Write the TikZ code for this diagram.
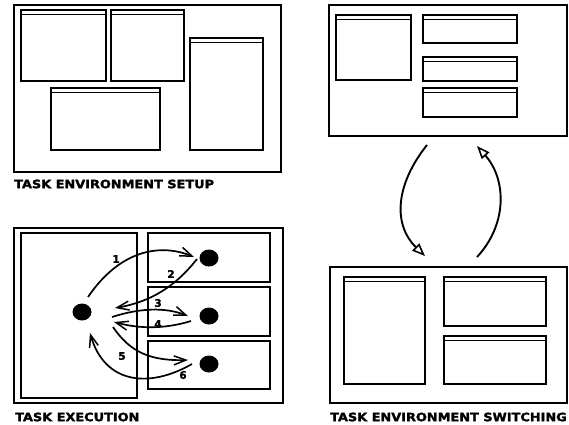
\documentclass[tikz,border=0pt]{standalone}
\usepackage{fontspec}
\newfontfamily\lblfont{DejaVu Sans}[FakeStretch=1.12,BoldFeatures={FakeBold=2}]
\newfontfamily\numfont{DejaVu Sans}[BoldFeatures={FakeBold=1.5}]
\usetikzlibrary{arrows.meta,shapes.geometric}
\newcommand\mywin[4]{%
  \draw[winline] (#1,#2) rectangle (#3,#4);
  \draw[winline] (#1,#2+4.5) -- (#3,#2+4.5);}
\begin{document}
\begin{tikzpicture}[x=1pt,y=-1pt,
  frame/.style={line width=2.3pt},
  winline/.style={line width=1.7pt},
  caption/.style={anchor=west,inner sep=0pt,font=\lblfont\bfseries\fontsize{11.5}{12}\selectfont},
  num/.style={inner sep=0pt,font=\numfont\bfseries\fontsize{10.5}{11}\selectfont},
  dot/.style={ellipse,fill=black,minimum width=19pt,minimum height=17pt,inner sep=0pt},
  flow/.style={line width=1.7pt,-{Straight Barb[length=12pt,width=9pt,line width=1.5pt]}},
  swap/.style={line width=1.9pt,-{Triangle[open,length=13pt,width=10pt,line width=1.6pt]}}
]
\useasboundingbox (0,0) rectangle (569,424);
% ---------- Task environment setup ----------
\draw[frame] (14,5) rectangle (281,172);
\mywin{21}{10}{106}{81}
\mywin{111}{10}{184}{81}
\mywin{190}{38}{263}{150}
\mywin{51}{88}{160}{150}
\node[caption] (lsetup) at (14,184) {TASK ENVIRONMENT SETUP};
% ---------- Top right ----------
\draw[frame] (329,5) rectangle (567,136);
\mywin{336}{15}{411}{80}
\mywin{423}{15}{517}{43}
\mywin{423}{57}{517}{81}
\mywin{423}{88}{517}{117}
% ---------- Task environment switching ----------
\draw[frame] (330,267) rectangle (567,403);
\mywin{344}{277}{425}{384}
\mywin{444}{277}{546}{326}
\mywin{444}{336}{546}{384}
\node[caption] (lswitch) at (330,417) {TASK ENVIRONMENT SWITCHING};
% switching arrows
\coordinate (sa1) at (427,145);
\coordinate (sa2) at (425,256);
\coordinate (sb1) at (477,257);
\coordinate (sb2) at (477,146);
\draw[swap] (sa1) .. controls (395,185) and (393,225) .. (sa2);
\draw[swap] (sb1) .. controls (507,225) and (507,180) .. (sb2);
% ---------- Task execution ----------
\draw[frame] (14,228) rectangle (283,403);
\draw[winline] (21,233) rectangle (137,398);
\draw[winline] (148,233) rectangle (270,282);
\draw[winline] (148,287) rectangle (270,336);
\draw[winline] (148,341) rectangle (270,389);
\node[dot] (c) at (82,312) {};
\node[dot] (d1) at (209,258) {};
\node[dot] (d2) at (209,316) {};
\node[dot] (d3) at (209,364) {};
\coordinate (a1s) at (88,297);   \coordinate (a1e) at (194,257);
\coordinate (a2s) at (197,259);  \coordinate (a2e) at (115,308);
\coordinate (a3s) at (112,317);  \coordinate (a3e) at (188,316);
\coordinate (a4s) at (191,321);  \coordinate (a4e) at (114,322);
\coordinate (a5s) at (113,327);  \coordinate (a5e) at (188,360);
\coordinate (a6s) at (192,364);  \coordinate (a6e) at (90,333);
\draw[flow] (a1s) .. controls (120,250) and (160,243) .. (a1e);
\draw[flow] (a2s) .. controls (175,287) and (150,302) .. (a2e);
\draw[flow] (a3s) .. controls (140,308) and (165,307) .. (a3e);
\draw[flow] (a4s) .. controls (165,329) and (140,329) .. (a4e);
\draw[flow] (a5s) .. controls (130,352) and (150,361) .. (a5e);
\draw[flow] (a6s) .. controls (150,388) and (105,385) .. (a6e);
\node[num] (n1) at (116,259) {1};
\node[num] (n2) at (171,274) {2};
\node[num] (n3) at (158,303) {3};
\node[num] (n4) at (158,324) {4};
\node[num] (n5) at (122,356) {5};
\node[num] (n6) at (183,375) {6};
\node[caption] (lexec) at (15,417) {TASK EXECUTION};
\end{tikzpicture}
\end{document}
